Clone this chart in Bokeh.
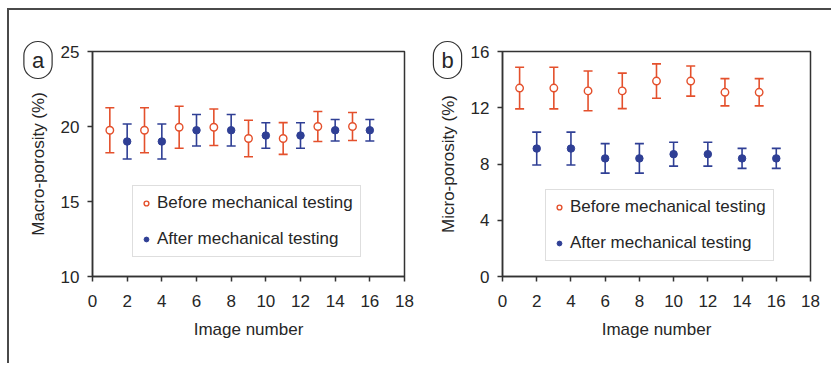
from bokeh.plotting import figure
from bokeh.models import (ColumnDataSource, Whisker, TeeHead, Legend, LegendItem, Label,
                          Range1d)
from bokeh.layouts import row
from bokeh.embed import file_html
from bokeh.resources import INLINE

# ---- data ----
before_x = [1, 3, 5, 7, 9, 11, 13, 15]
after_x = [2, 4, 6, 8, 10, 12, 14, 16]
macro_before = [19.75, 19.75, 19.95, 19.95, 19.2, 19.2, 20.0, 20.0]
macro_before_err = [1.5, 1.5, 1.4, 1.22, 1.22, 1.06, 1.0, 0.93]
macro_after = [19.0, 19.0, 19.75, 19.75, 19.4, 19.4, 19.75, 19.75]
macro_after_err = [1.17, 1.17, 1.05, 1.05, 0.85, 0.85, 0.72, 0.72]
micro_before = [13.4, 13.4, 13.2, 13.2, 13.9, 13.9, 13.1, 13.1]
micro_before_err = [1.48, 1.48, 1.41, 1.26, 1.22, 1.07, 0.97, 0.97]
micro_after = [9.1, 9.1, 8.4, 8.4, 8.7, 8.7, 8.4, 8.4]
micro_after_err = [1.17, 1.17, 1.05, 1.05, 0.85, 0.85, 0.71, 0.71]

x_ticks = [0, 2, 4, 6, 8, 10, 12, 14, 16, 18]
macro_ticks = [10, 15, 20, 25]
micro_ticks = [0, 4, 8, 12, 16]
legend_labels = ["Before mechanical testing", "After mechanical testing"]

RED = "#e4502c"
BLUE = "#2f3f95"
TXT = "#262626"
FONT = "Liberation Sans"
H = 353


def panel(yb, yb_err, ya, ya_err, yr, yticks, ylabel, letter, letter_pos,
          legend_loc, border_top, frame_w, frame_h, width):
    p = figure(width=width, height=H, output_backend="svg", toolbar_location=None,
               x_range=Range1d(0, 18), y_range=Range1d(*yr))
    p.min_border_left = 83
    p.min_border_right = width - 83 - frame_w
    p.min_border_top = border_top
    p.min_border_bottom = H - border_top - frame_h
    p.grid.visible = False
    p.outline_line_color = "#333333"
    p.outline_line_width = 1.5
    p.background_fill_color = "white"
    p.border_fill_color = "white"

    for ax in (p.xaxis[0], p.yaxis[0]):
        ax.axis_line_color = "#333333"
        ax.axis_line_width = 1.5
        ax.major_tick_line_color = "#333333"
        ax.major_tick_line_width = 1.5
        ax.major_tick_in = 0
        ax.major_tick_out = 5
        ax.minor_tick_line_color = None
        ax.major_label_text_font = FONT
        ax.major_label_text_font_size = "17px"
        ax.major_label_text_color = TXT
        ax.axis_label_text_font = FONT
        ax.axis_label_text_font_size = "17px"
        ax.axis_label_text_font_style = "normal"
        ax.axis_label_text_color = TXT
    p.xaxis.ticker = x_ticks
    p.yaxis.ticker = yticks
    p.xaxis.axis_label = "Image number"
    p.yaxis.axis_label = ylabel
    p.xaxis.major_label_standoff = 13
    p.yaxis.major_label_standoff = 8
    p.xaxis.axis_label_standoff = 10
    p.yaxis.axis_label_standoff = 10

    src_b = ColumnDataSource(dict(x=before_x, y=yb,
                                  lo=[v - e for v, e in zip(yb, yb_err)],
                                  hi=[v + e for v, e in zip(yb, yb_err)]))
    src_a = ColumnDataSource(dict(x=after_x, y=ya,
                                  lo=[v - e for v, e in zip(ya, ya_err)],
                                  hi=[v + e for v, e in zip(ya, ya_err)]))
    for src, col in ((src_b, RED), (src_a, BLUE)):
        w = Whisker(base="x", lower="lo", upper="hi", source=src,
                    line_color=col, line_width=1.6, level="underlay",
                    upper_head=TeeHead(size=9, line_color=col, line_width=1.6),
                    lower_head=TeeHead(size=9, line_color=col, line_width=1.6))
        p.add_layout(w)

    rb = p.scatter("x", "y", source=src_b, size=7.5, marker="circle",
                   line_color=RED, fill_color="white", line_width=1.4)
    ra = p.scatter("x", "y", source=src_a, size=7.5, marker="circle",
                   line_color=BLUE, fill_color=BLUE)

    leg = Legend(items=[LegendItem(label=legend_labels[0], renderers=[rb]),
                        LegendItem(label=legend_labels[1], renderers=[ra])],
                 location=legend_loc, border_line_color="#bdbdbd", border_line_width=1.2,
                 padding=7, spacing=16, label_height=20, glyph_height=20, glyph_width=12,
                 label_standoff=5, label_text_font=FONT, label_text_font_size="17px",
                 label_text_color=TXT, margin=0, background_fill_color="white",
                 background_fill_alpha=1.0)
    p.add_layout(leg)

    # panel letter in a rounded (elliptical) frame, placed in the top panel
    lab = Label(x=letter_pos[0], y=letter_pos[1], x_units="screen", y_units="screen",
                text=letter, text_align="center", text_baseline="middle",
                text_font=FONT, text_font_size="22px", text_color=TXT,
                border_line_color="#333333", border_line_width=1.2,
                padding=dict(x=8, y=6), border_radius=14)
    p.add_layout(lab, "above")
    return p


pa = panel(macro_before, macro_before_err, macro_after, macro_after_err,
           (10, 25), macro_ticks, "Macro-porosity (%)", "a", (-54.5, -8.5),
           (40, 19), 40, 312, 226, 410)
pb = panel(micro_before, micro_before_err, micro_after, micro_after_err,
           (0, 16), micro_ticks, "Micro-porosity (%)", "b", (-55, -8.5),
           (43, 15), 41, 308, 225, 412)

layout = row(pa, pb, margin=(8, 0, 0, 7),
             styles={"border-top": "2px solid #4a4a4a",
                     "border-left": "2px solid #4a4a4a"})

open("out.html", "w").write(file_html(layout, INLINE))
